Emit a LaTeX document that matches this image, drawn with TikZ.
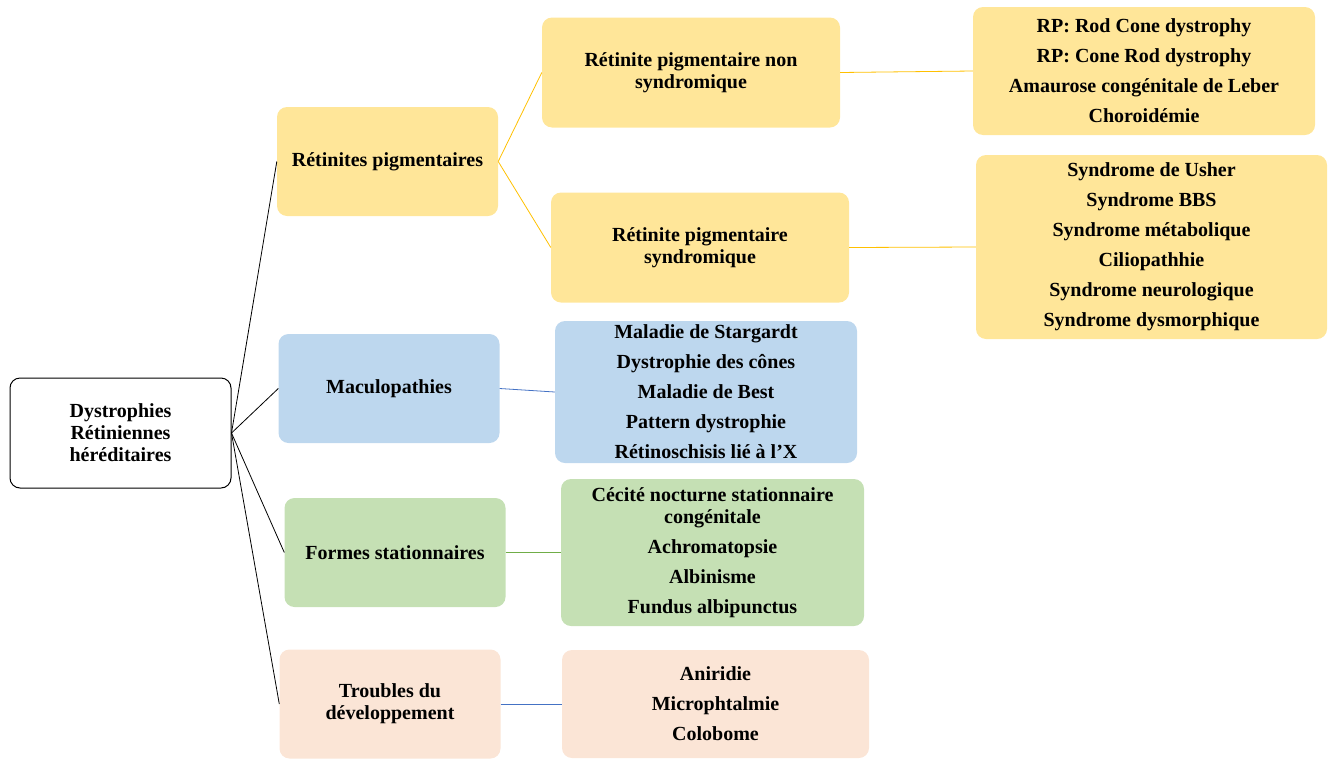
\documentclass[tikz,border=0pt]{standalone}
\usepackage{fontspec}
\setmainfont{Liberation Serif}
\usetikzlibrary{positioning}
\definecolor{rpfill}{HTML}{FFE699}
\definecolor{macfill}{HTML}{BDD7EE}
\definecolor{stfill}{HTML}{C5E0B4}
\definecolor{devfill}{HTML}{FBE5D6}
\definecolor{rpline}{HTML}{FFC000}
\definecolor{macline}{HTML}{4472C4}
\definecolor{stline}{HTML}{70AD47}

\begin{document}
\begin{tikzpicture}[x=1pt,y=-1pt,
  font=\fontsize{20}{22}\selectfont\bfseries,
  box/.style={rounded corners=10pt,align=center,inner sep=0pt},
  cat/.style={box,minimum width=221pt,minimum height=109pt},
  sub/.style={box,minimum width=298pt,minimum height=110pt},
  link/.style={line width=0.8pt}]
  \useasboundingbox (0,0) rectangle (1332,758);
   \node[box,draw=black,line width=1pt,minimum width=221pt,minimum height=110pt] (dr) at (120.5,433) {Dystrophies\\Rétiniennes\\héréditaires};
   \node[cat,fill=rpfill] (rp) at (387.5,161.5) {Rétinites pigmentaires};
   \node[cat,fill=macfill] (mac) at (389,388.5) {Maculopathies};
   \node[cat,fill=stfill] (st) at (395,552.5) {Formes stationnaires};
   \node[cat,fill=devfill] (dev) at (390,704) {Troubles du\\développement};
   \node[sub,fill=rpfill] (rpns) at (691,72.5) {Rétinite pigmentaire non\\syndromique};
   \node[sub,fill=rpfill] (rps) at (700,247.5) {Rétinite pigmentaire\\syndromique};
   \node[box,fill=rpfill,minimum width=342pt,minimum height=128pt] (rpnsl) at (1144,71)
     {RP: Rod Cone dystrophy\\[8pt]RP: Cone Rod dystrophy\\[8pt]Amaurose congénitale de Leber\\[8pt]Choroidémie};
   \node[box,fill=rpfill,minimum width=351pt,minimum height=184pt] (rpsl) at (1151.5,247)
     {Syndrome de Usher\\[8pt]Syndrome BBS\\[8pt]Syndrome métabolique\\[8pt]Ciliopathhie\\[8pt]Syndrome neurologique\\[8pt]Syndrome dysmorphique};
   \node[box,fill=macfill,minimum width=302pt,minimum height=142pt] (macl) at (706,392)
     {Maladie de Stargardt\\[8pt]Dystrophie des cônes\\[8pt]Maladie de Best\\[8pt]Pattern dystrophie\\[8pt]Rétinoschisis lié à l’X};
   \node[box,fill=stfill,minimum width=303pt,minimum height=147pt] (stl) at (712.5,552.5)
     {Cécité nocturne stationnaire\\congénitale\\[8pt]Achromatopsie\\[8pt]Albinisme\\[8pt]Fundus albipunctus};
   \node[box,fill=devfill,minimum width=307pt,minimum height=108pt] (devl) at (715.5,704)
     {Aniridie\\[8pt]Microphtalmie\\[8pt]Colobome};
    \path[link,draw=black]
    (dr.east) edge (rp.west)
              edge (mac.west)
              edge (st.west)
              edge (dev.west);
    \draw[link,rpline] (rp.east) -- (rpns.west);
    \draw[link,rpline] (rp.east) -- (rps.west);
    \draw[link,rpline] (rpns.east) -- (rpnsl.west);
    \draw[link,rpline] (rps.east) -- (rpsl.west);
    \draw[link,macline] (mac.east) -- (macl.west);
    \draw[link,stline] (st.east) -- (stl.west);
    \draw[link,macline] (dev.east) -- (devl.west);
\end{tikzpicture}
\end{document}
